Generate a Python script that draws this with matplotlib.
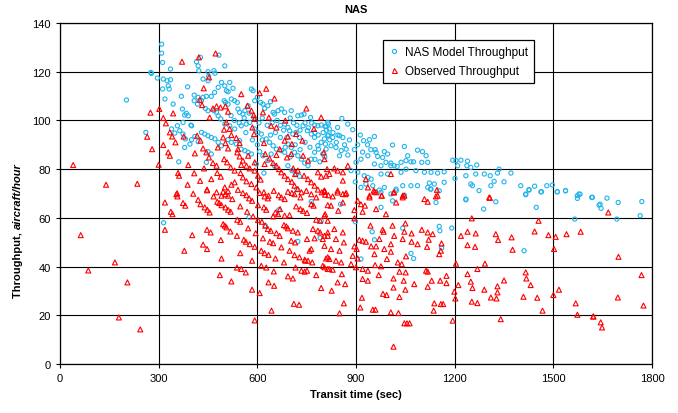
import matplotlib
matplotlib.use("Agg")
import matplotlib.pyplot as plt
from matplotlib.lines import Line2D

plt.rcParams['font.family'] = ['Liberation Sans', 'DejaVu Sans']

# Observed throughput: (transit time sec, aircraft/hour)
observed = [
    (40,81.7),(63,52.9),(86,38.4),(140,73.6),(167,41.7),(179,19.1),(205,33.5),(235,74.0),(244,14.2),
    (265,93.3),(275,103.2),(280,88.2),(300,81.8),(371,124.1),(422,125.9),(473,127.5),(627,113.0),
    (354,69.7),(357,68.8),(405,69.9),(447,71.3),(467,68.8),(496,70.7),(503,69.7),(511,69.1),(524,67.7),
    (541,71.5),(556,70.2),(567,69.3),(575,68.0),(584,67.0),(607,70.2),(622,68.8),(632,68.0),(650,71.1),
    (665,69.3),(673,68.4),(683,67.7),(693,70.7),(705,70.2),(713,69.7),(731,68.4),(749,71.1),(764,69.7),
    (779,68.4),(804,70.7),(816,69.3),
    (319,66.3),(374,66.1),(381,65.0),(420,67.4),(427,65.6),(440,64.3),(448,63.3),(455,62.2),(478,66.6),
    (484,66.1),(491,65.2),(503,64.3),(511,63.3),(519,62.5),(548,64.7),(569,62.5),(587,60.6),(602,65.2),
    (620,64.3),(627,63.3),(648,60.6),(655,62.2),(663,61.5),(669,63.6),(683,60.9),(698,61.1),(718,64.7),
    (731,63.6),(739,62.9),(751,62.0),(764,65.6),(771,65.0),(779,59.2),(791,58.8),(806,61.5),(814,65.2),
    (337,62.5),(342,61.5),
    (319,55.1),(402,52.9),(447,55.1),(458,54.0),(489,50.9),(496,57.4),(501,56.8),(506,56.1),(518,54.4),
    (538,52.6),(539,59.2),(548,58.4),(559,51.0),(565,50.2),(572,55.7),(577,49.2),(592,48.1),(595,53.7),
    (602,59.1),(614,58.4),(617,51.6),(624,56.8),(632,55.4),(638,50.2),(641,54.7),(648,49.6),(658,53.7),
    (668,52.6),(673,47.9),(681,57.0),(688,56.5),(693,55.7),(698,46.5),(703,50.6),(708,54.7),(715,49.9),
    (723,54.0),(728,43.8),(746,42.4),(751,51.3),(759,46.5),(764,47.2),(769,55.4),(774,51.6),(784,54.7),
    (791,54.0),(799,51.3),(804,48.5),(809,43.3),(814,52.6),(814,58.8),
    (378,46.5),(435,49.0),(447,47.2),(491,43.3),(548,45.5),(584,42.4),(612,46.5),(622,45.5),(634,44.8),
    (655,43.3),(681,41.7),(713,44.7),(744,42.8),(754,42.4),(767,41.7),
    (538,39.6),(551,39.0),(565,37.6),(612,40.3),(627,39.6),(650,38.0),(693,36.0),(708,35.1),(716,39.6),
    (734,38.3),(744,37.9),(751,38.3),(779,36.5),(794,31.2),(799,40.3),(814,39.0),
    (486,36.5),(521,33.9),(584,30.5),(607,29.1),(634,33.5),(651,32.1),(643,21.9),(711,24.7),(727,24.3),
    (592,17.9),
    (302,104.7),(314,101.0),(322,98.8),(334,95.1),(341,93.4),(351,91.0),(314,89.9),(329,86.9),(334,85.5),
    (344,102.9),(376,93.4),(390,81.7),(359,78.4),(362,77.3),(408,78.3),(388,73.6),(356,70.1),
    (426,75.2),(447,71.6),(410,86.5),(417,93.7),(427,91.7),(437,113.2),(425,108.5),(432,106.3),(453,117.7),
    (455,101.2),(465,104.9),(476,105.8),(488,105.3),(503,105.8),(511,103.6),(506,99.2),(499,96.2),
    (516,96.5),(521,94.0),(536,92.8),(546,90.7),(551,110.8),(570,106.0),(582,104.0),(589,102.2),
    (592,100.6),(607,111.2),(652,109.0),(617,103.3),(635,101.2),(642,97.8),(658,97.1),
    (685,99.9),(693,93.4),(703,86.2),(718,94.4),(737,91.7),(749,104.9),(772,96.5),(794,101.2),(802,86.9),
    (809,77.3),
    (435,88.5),(445,86.9),(453,84.8),(465,82.5),(476,81.4),(480,88.9),(496,93.0),(503,90.7),(511,88.5),
    (539,86.9),(546,85.2),(556,83.5),(567,81.4),(577,80.3),(592,79.4),(602,77.3),(610,75.7),(620,90.7),
    (624,86.2),(637,84.4),(648,82.5),(658,81.4),(666,80.0),(673,78.7),(683,77.3),(693,75.9),(705,74.8),
    (713,73.2),(723,71.8),(734,70.5),(742,77.3),(754,75.9),(764,74.6),(774,73.2),(784,71.6),(796,70.5),
    (806,69.5),(620,70.5),(634,69.1),(590,94.4),(585,97.1),(541,88.2),(549,78.4),(556,76.6),(567,75.0),
    (582,73.9),(597,72.5),(476,70.5),(491,69.1),(501,72.5),(511,70.9),(521,73.6),(531,74.6),(460,75.9),
    (438,80.3),(478,78.4),(489,76.9),(715,78.0),(723,79.4),(709,80.3),(739,85.5),(754,83.5),(784,78.7),
    (794,76.9),(690,84.8),(658,85.8),(668,88.2),(683,91.7),(705,90.3),(622,82.1),(572,85.5),(592,82.8),
    (499,84.1),(508,82.8),(519,80.7),(531,79.4),(551,81.7),
    (804,84.1),(812,80.0),(819,78.0),(844,79.4),(860,78.7),(875,81.4),(860,75.3),(844,71.2),(860,69.8),
    (870,70.2),(804,71.2),(930,75.9),(936,72.5),(941,69.1),(954,71.2),(961,70.5),(978,69.1),(1006,78.0),
    (1016,70.5),(1042,69.1),(1148,69.1),(1305,68.4),(834,80.3),
    (804,71.1),(804,60.9),(824,65.0),(829,68.8),(846,62.9),(860,66.3),(814,54.0),(804,52.6),(834,55.4),
    (839,51.3),(860,54.0),(850,46.5),(863,49.9),(824,47.2),(814,43.8),(819,43.1),(839,42.4),(855,41.7),
    (885,41.0),(900,39.7),(895,48.3),(902,47.2),(905,43.3),(890,44.4),(804,39.7),(819,39.0),(829,38.7),
    (844,33.5),(857,36.9),(867,32.8),(826,30.1),(863,24.9),(850,20.8),(844,70.4),(868,69.7),
    (905,67.0),(915,65.6),(920,62.5),(927,65.0),(941,68.4),(956,70.7),(961,63.6),(978,69.1),(991,61.5),
    (1014,70.4),(1022,66.3),(1042,68.4),(1047,69.1),(1108,67.7),(1118,66.6),(1143,68.8),(1146,71.5),
    (895,63.2),(895,59.8),(944,56.8),(910,51.0),(920,50.6),(930,50.2),(946,48.3),(961,48.3),(956,45.1),
    (971,51.3),(984,54.3),(981,55.1),(986,47.2),(1006,49.2),(1011,56.8),(1016,52.6),(1042,51.3),
    (1050,57.7),(1047,54.3),(1069,53.6),(1069,50.2),(1087,49.2),(1100,55.1),(1118,54.0),(1133,53.3),
    (1121,51.0),(1116,48.1),(1160,49.5),(1158,46.5),(1153,45.1),(994,43.1),(1006,46.1),(1027,41.7),
    (1039,41.0),(1052,44.2),(976,40.1),(958,40.6),(920,39.0),(936,38.3),(969,36.5),(936,34.2),(920,34.9),
    (1014,35.1),(1014,31.4),(1032,37.9),(1045,34.2),(1051,37.6),(1050,30.5),(1077,32.8),(1113,38.3),
    (1118,37.9),(1118,31.7),(1130,34.2),(1156,34.2),(1175,36.2),(1175,33.2),(1204,41.2),(1211,32.4),
    (1199,29.7),(1202,26.9),(1138,24.9),(1158,24.6),(1165,24.6),(1136,21.9),(982,28.8),(993,28.3),
    (1032,27.5),(918,27.2),(913,23.2),(951,22.3),(959,22.3),(1006,21.2),(1029,20.9),(1047,16.7),
    (1055,16.7),(1063,16.7),(1014,7.1),(1194,17.8),(1252,59.8),(1239,54.3),(1264,53.6),(1219,52.6),
    (1239,48.8),(1262,48.1),(1269,39.0),(1292,41.2),(1239,36.9),(1249,33.8),(1254,31.2),(1290,30.5),
    (1330,31.9),(1330,29.4),(1350,34.3),(1252,25.6),(1269,25.0),(1310,27.3),(1327,26.9),(1340,18.4),
    (1325,53.3),(1332,50.9),(1373,52.0),(1376,46.9),(1416,37.6),(1418,35.1),(1431,32.4),(1409,27.6),
    (1451,27.2),(1467,21.9),(1500,28.3),(1517,30.5),(1443,54.4),(1455,58.8),(1485,52.9),(1507,52.2),
    (1502,47.2),(1540,53.3),(1583,54.3),(1568,24.9),(1573,20.2),(1621,19.5),(1307,68.2),
    (1667,62.2),(1698,44.0),(1768,36.5),(1696,27.3),(1774,24.0),(1622,19.5),(1644,17.1),(1648,15.0),
]

# NAS model throughput: (transit time sec, aircraft/hour)
model = [
    (309,131.3),(309,127.6),(312,123.8),(336,121.1),(276,119.7),(278,119.3),(296,117.4),(314,117.0),
    (326,116.3),(336,116.7),(329,114.2),(332,112.9),(312,112.9),(319,108.8),(344,106.7),(369,109.9),
    (372,104.7),(388,113.8),(408,110.4),(420,109.5),(435,109.5),(445,109.9),(460,109.9),(470,111.5),
    (481,113.6),(491,115.6),(501,114.2),(506,112.2),(511,111.8),(526,113.2),(516,115.6),(450,116.3),
    (435,117.0),(452,118.1),(422,120.4),(450,120.0),(468,120.4),(471,119.4),(483,126.8),(501,122.4),
    (415,124.1),(420,122.4),(427,125.9),(202,108.4),(261,95.1),(339,96.5),(349,94.8),(357,97.8),
    (374,99.2),(379,102.2),(384,102.9),(390,101.9),(398,98.1),(400,97.8),(408,108.1),(418,106.7),
    (430,108.1),(442,104.9),(450,104.0),(468,104.0),(476,103.3),(481,101.9),(489,100.6),(499,108.1),
    (503,107.4),(511,106.7),(521,108.8),(531,108.1),(539,107.4),(541,104.7),(546,103.3),(556,102.6),
    (562,104.0),(572,106.0),(582,112.9),(587,112.2),(592,108.1),(600,109.5),(610,107.4),(617,106.7),
    (622,104.9),(632,106.0),(640,107.7),(648,103.3),(652,102.6),(663,104.0),(673,104.7),(683,103.3),
    (703,104.0),(723,101.9),(734,102.2),(742,102.6),(762,101.2),(774,98.1),(784,97.8),(794,98.1),
    (806,97.5),(816,98.5),(364,95.8),(374,94.4),(381,92.4),(395,90.3),(379,88.9),(361,83.0),(400,92.1),
    (410,93.4),(420,91.3),(430,95.1),(440,94.4),(450,93.7),(460,93.0),(471,92.4),(481,91.0),(491,89.6),
    (511,92.1),(521,91.0),(536,90.3),(546,91.7),(551,88.2),(562,87.6),(572,86.9),(582,86.2),(592,96.5),
    (602,95.1),(612,94.4),(627,92.4),(637,91.0),(648,89.6),(658,88.2),(673,87.6),(683,86.9),(693,90.3),
    (703,88.9),(713,86.9),(723,85.5),(734,84.1),(744,82.5),(754,81.4),(764,84.1),(774,86.9),(784,89.6),
    (794,91.0),(804,92.4),(814,93.7),(683,98.5),(693,97.1),(698,95.8),(708,94.4),(718,95.1),(728,93.0),
    (739,97.8),(752,95.8),(764,94.4),(774,93.0),(786,88.2),(799,86.2),(809,88.2),(693,81.4),(705,79.4),
    (718,78.0),(728,77.0),(652,81.4),(632,83.5),(617,85.5),(607,87.2),(642,86.2),(597,82.1),(620,78.4),
    (450,87.2),(460,86.2),(445,82.8),(501,98.5),(516,97.8),(531,96.5),(551,97.8),(566,98.5),(577,99.2),
    (520,102.0),(530,100.0),(545,99.0),(560,101.0),(575,103.0),(590,101.0),(605,99.0),(615,101.0),
    (630,98.0),(645,99.0),(660,100.0),(670,98.0),(680,96.0),(690,93.0),(700,101.0),(710,99.0),
    (720,98.0),(730,96.0),(745,99.0),(755,97.0),(765,99.0),(775,95.0),(785,94.0),(800,95.0),
    (810,96.0),(820,92.0),(830,95.0),(840,91.0),(845,94.0),(865,90.0),(880,92.0),(895,88.0),
    (905,90.0),(920,87.0),(935,90.0),(945,88.0),(565,95.0),(585,92.0),(600,90.0),(615,92.0),
    (640,94.0),(655,95.0),(670,93.0),(685,89.0),(700,85.0),(715,90.0),(730,88.0),(745,91.0),
    (760,89.0),(775,84.0),(790,83.0),(805,85.0),
    (857,100.8),(814,99.2),(809,97.5),(819,96.5),(844,97.1),(875,98.5),(816,94.0),(829,93.0),(850,93.7),
    (860,93.0),(807,90.3),(824,89.6),(839,88.9),(855,87.6),(870,88.2),(850,85.5),(875,85.8),(890,96.2),
    (913,94.0),(923,91.7),(941,92.1),(956,93.4),(958,88.0),(961,86.9),(966,85.2),(981,84.8),(986,87.2),
    (996,86.2),(1011,89.9),(1047,89.3),(1057,85.5),(1052,83.5),(1037,82.8),(1016,81.4),(1006,82.5),
    (991,82.8),(976,81.4),(956,82.1),(936,85.5),(915,84.1),(900,82.8),(885,79.4),(905,78.7),(925,77.3),
    (946,75.9),(976,78.0),(996,78.0),(1006,81.4),(1025,81.1),(1037,78.7),(1052,80.0),(1067,83.0),
    (1075,83.0),(1087,87.8),(1102,87.2),(1113,85.5),(1118,82.8),(1100,82.8),(1082,79.4),(1108,78.7),
    (1128,78.7),(1148,78.4),(1168,78.9),(1194,83.7),(1209,81.4),(1204,83.5),(1219,83.7),(1239,83.3),
    (1237,81.4),(1249,80.7),(1267,81.7),(1264,78.0),(1290,78.0),(1308,77.3),(1335,80.0),(1330,78.4),
    (1320,75.0),(1350,74.8),(1371,78.4),(1401,73.2),(1416,69.8),(1426,71.6),(1443,73.0),(1462,70.7),
    (1480,73.2),(1497,73.5),(1512,70.7),(1537,71.2),(1578,69.8),(1573,69.1),(1618,68.4),(1234,77.3),
    (1249,73.9),(1254,73.2),(1274,71.2),(1310,73.2),(1118,72.5),(1128,71.8),(1123,74.3),(1138,73.9),
    (1168,74.6),(1201,76.2),(1234,67.7),(1087,73.2),(1042,73.2),(1067,73.2),(1022,71.8),(986,72.5),
    (951,73.2),(930,73.9),(1006,69.8),(976,70.5),(936,76.6),(898,74.8),(915,72.5),
    (853,65.6),(976,64.3),(971,71.4),(1022,71.1),(1047,69.3),(1143,66.3),(1011,67.0),(1126,71.8),
    (1153,71.1),(1234,67.4),(1288,63.6),(1325,66.6),(1416,69.5),(1426,71.4),(1464,70.7),(1448,64.3),
    (1512,70.7),(1537,71.1),(1573,68.0),(1581,69.7),(1618,68.4),(1639,65.2),(1565,59.5),(898,58.4),
    (949,54.3),(956,51.0),(1042,55.8),(1153,56.5),(1155,54.7),(1191,55.8),(1160,47.6),(1067,45.4),
    (1075,43.3),(915,43.1),(1411,46.5),
    (315,58.0),(575,60.3),(624,56.8),(665,63.3),(764,66.7),(794,58.8),(791,51.8),(723,50.3),(720,71.8),
    (1617,68.4),(1663,68.1),(1642,65.6),(1645,63.9),(1697,66.3),(1769,66.7),(1693,59.5),(1764,60.9),
]

x_ticks = [0, 300, 600, 900, 1200, 1500, 1800]
y_ticks = [0, 20, 40, 60, 80, 100, 120, 140]

model_color = '#1EB4EC'
obs_color = '#FF0000'

obs_t, obs_r = zip(*observed)
mod_t, mod_r = zip(*model)

fig = plt.figure(figsize=(6.78, 4.14), dpi=100)
ax = fig.add_axes([0.0885, 0.1184, 0.8732, 0.8236])

ax.scatter(mod_t, mod_r, s=9, marker='o', facecolors='none',
           edgecolors=model_color, linewidths=0.8, zorder=3)
ax.scatter(obs_t, obs_r, s=13, marker='^', facecolors='none',
           edgecolors=obs_color, linewidths=0.8, zorder=4)

ax.set_xlim(0, 1800)
ax.set_ylim(0, 140)
ax.set_xticks(x_ticks)
ax.set_yticks(y_ticks)
ax.tick_params(labelsize=8, length=3, width=0.8, direction='out', colors='black')
ax.grid(True, color='black', linewidth=0.8, zorder=1)
ax.set_axisbelow(True)
for s in ax.spines.values():
    s.set_color('black')
    s.set_linewidth(0.9)

ax.set_title('NAS', fontsize=8, fontweight='bold', pad=8)
ax.set_xlabel('Transit time (sec)', fontsize=8, fontweight='bold', labelpad=4)

# y label: regular bold part followed by an italic bold unit
fig.canvas.draw()
renderer = fig.canvas.get_renderer()
t1 = fig.text(0.027, 0.28, 'Throughput, ', rotation=90, fontsize=8,
              fontweight='bold', ha='center', va='bottom')
bb = t1.get_window_extent(renderer).transformed(fig.transFigure.inverted())
fig.text(0.027, bb.y1, 'aircraft/hour', rotation=90, fontsize=8,
         fontweight='bold', style='italic', ha='center', va='bottom')

handles = [
    Line2D([], [], linestyle='none', marker='o', markersize=3,
           markerfacecolor='none', markeredgecolor=model_color, markeredgewidth=0.8),
    Line2D([], [], linestyle='none', marker='^', markersize=3.6,
           markerfacecolor='none', markeredgecolor=obs_color, markeredgewidth=0.8),
]
leg = ax.legend(handles, ['NAS Model Throughput', 'Observed Throughput'],
                loc='upper left', bbox_to_anchor=(0.535, 0.967), fontsize=8.5,
                frameon=True, fancybox=False, framealpha=1, edgecolor='black',
                handlelength=1.0, handletextpad=0.4, borderpad=0.5, labelspacing=0.6)
leg.get_frame().set_linewidth(0.9)
leg.set_zorder(10)

fig.savefig('out.png', dpi=100)
